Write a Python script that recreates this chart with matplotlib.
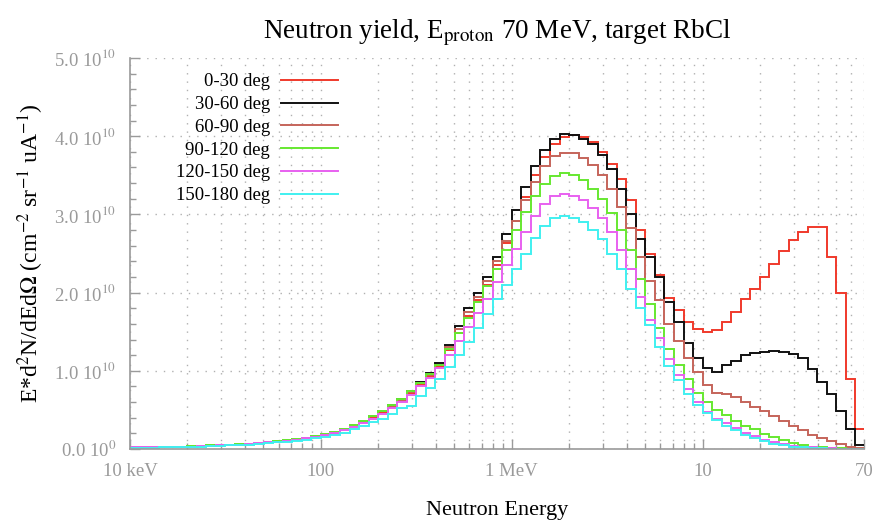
import numpy as np
import matplotlib
matplotlib.use('Agg')
import matplotlib.pyplot as plt
from matplotlib.ticker import FixedLocator, MultipleLocator, FuncFormatter

plt.rcParams['font.family'] = ['Liberation Serif', 'DejaVu Serif']
plt.rcParams['mathtext.fontset'] = 'stix'

# Energy bin edges (MeV), 20 bins per decade from 10 keV
edges = np.logspace(-2, 1.85, 78)

# Yield per bin, units of 1e10
y_0_30 = [0.02, 0.02, 0.02, 0.025, 0.03, 0.03, 0.035, 0.04, 0.045, 0.05,
          0.055, 0.06, 0.07, 0.08, 0.09, 0.10, 0.11, 0.125, 0.14, 0.16,
          0.18, 0.21, 0.25, 0.3, 0.35, 0.41, 0.47, 0.54, 0.62, 0.71,
          0.82, 0.93, 1.05, 1.26, 1.48, 1.7, 1.9, 2.1, 2.35, 2.63,
          2.92, 3.22, 3.5, 3.73, 3.9, 3.99, 4.02, 3.99, 3.92, 3.8,
          3.64, 3.45, 3.18, 2.8, 2.5, 2.22, 1.93, 1.78, 1.62, 1.53,
          1.5, 1.52, 1.62, 1.75, 1.92, 2.05, 2.2, 2.37, 2.53, 2.67,
          2.77, 2.84, 2.84, 2.45, 2.0, 0.9, 0.25]
y_30_60 = [0.02, 0.02, 0.02, 0.025, 0.03, 0.03, 0.035, 0.04, 0.045, 0.05,
           0.055, 0.06, 0.07, 0.08, 0.09, 0.10, 0.11, 0.125, 0.14, 0.16,
           0.19, 0.22, 0.26, 0.31, 0.36, 0.42, 0.49, 0.56, 0.64, 0.74,
           0.86, 0.97, 1.1, 1.33, 1.57, 1.8, 2.0, 2.2, 2.45, 2.75,
           3.05, 3.35, 3.62, 3.82, 3.96, 4.03, 4.02, 3.97, 3.9, 3.76,
           3.58, 3.32, 3.0, 2.68, 2.45, 2.2, 1.88, 1.62, 1.35, 1.17,
           1.04, 0.99, 1.07, 1.12, 1.2, 1.23, 1.24, 1.25, 1.24, 1.21,
           1.16, 1.02, 0.86, 0.7, 0.48, 0.25, 0.05]
y_60_90 = [0.02, 0.02, 0.02, 0.025, 0.03, 0.03, 0.035, 0.04, 0.045, 0.05,
           0.055, 0.06, 0.07, 0.08, 0.09, 0.10, 0.115, 0.13, 0.145, 0.165,
           0.19, 0.22, 0.26, 0.31, 0.36, 0.42, 0.48, 0.55, 0.63, 0.73,
           0.84, 0.95, 1.08, 1.3, 1.53, 1.75, 1.95, 2.15, 2.4, 2.66,
           2.92, 3.18, 3.42, 3.62, 3.75, 3.79, 3.78, 3.72, 3.63, 3.5,
           3.33, 3.1, 2.82, 2.45, 2.15, 1.9, 1.6, 1.38, 1.17, 0.98,
           0.82, 0.72, 0.7, 0.66, 0.6, 0.54, 0.48, 0.42, 0.36, 0.3,
           0.24, 0.18, 0.14, 0.1, 0.07, 0.03, 0.01]
y_90_120 = [0.02, 0.02, 0.02, 0.025, 0.03, 0.03, 0.035, 0.04, 0.045, 0.05,
            0.055, 0.06, 0.07, 0.08, 0.09, 0.10, 0.115, 0.13, 0.145, 0.165,
            0.19, 0.22, 0.26, 0.31, 0.36, 0.42, 0.49, 0.56, 0.64, 0.74,
            0.85, 0.96, 1.08, 1.28, 1.48, 1.68, 1.88, 2.08, 2.3, 2.55,
            2.8, 3.03, 3.23, 3.39, 3.49, 3.53, 3.5, 3.44, 3.33, 3.2,
            3.02, 2.8, 2.55, 2.17, 1.85, 1.55, 1.28, 1.08, 0.9, 0.72,
            0.6, 0.5, 0.43, 0.36, 0.3, 0.25, 0.19, 0.15, 0.11, 0.08,
            0.05, 0.03, 0.02, 0.01, 0.01, 0.005, 0.0]
y_120_150 = [0.02, 0.02, 0.02, 0.02, 0.025, 0.03, 0.03, 0.035, 0.04, 0.045,
             0.05, 0.055, 0.065, 0.075, 0.085, 0.095, 0.105, 0.12, 0.135, 0.15,
             0.175, 0.2, 0.24, 0.28, 0.33, 0.39, 0.45, 0.52, 0.6, 0.69,
             0.8, 0.91, 1.03, 1.2, 1.38, 1.56, 1.74, 1.92, 2.13, 2.35,
             2.56, 2.78, 2.98, 3.13, 3.23, 3.26, 3.24, 3.18, 3.08, 2.95,
             2.77, 2.55, 2.3, 1.94, 1.65, 1.42, 1.15, 0.95, 0.77, 0.6,
             0.47, 0.39, 0.33, 0.27, 0.21, 0.16, 0.12, 0.09, 0.06, 0.04,
             0.03, 0.02, 0.01, 0.01, 0.005, 0.0, 0.0]
y_150_180 = [0.015, 0.015, 0.015, 0.02, 0.02, 0.025, 0.03, 0.03, 0.035, 0.04,
             0.045, 0.05, 0.055, 0.065, 0.075, 0.085, 0.095, 0.105, 0.12, 0.135,
             0.155, 0.18, 0.21, 0.25, 0.29, 0.34, 0.39, 0.45, 0.52, 0.55,
             0.68, 0.78, 0.9, 1.05, 1.2, 1.37, 1.55, 1.73, 1.92, 2.1,
             2.3, 2.5, 2.7, 2.85, 2.95, 2.98, 2.96, 2.9, 2.8, 2.68,
             2.5, 2.3, 2.05, 1.8, 1.58, 1.3, 1.06, 0.88, 0.7, 0.56,
             0.46, 0.37, 0.3, 0.24, 0.18, 0.14, 0.1, 0.07, 0.05, 0.03,
             0.02, 0.01, 0.01, 0.0, 0.0, 0.0, 0.0]

labels = ['0-30 deg', '30-60 deg', '60-90 deg', '90-120 deg', '120-150 deg', '150-180 deg']
series = [y_0_30, y_30_60, y_60_90, y_90_120, y_120_150, y_150_180]
colors = ['#f0392b', '#111111', '#c5645a', '#66e830', '#e860f0', '#40f0f0']

x_ticks = [0.01, 0.1, 1, 10, 70]
x_ticklabels = ['10 keV', '100', '1 MeV', '10', '70']

fig = plt.figure(figsize=(8.78, 5.21), dpi=100)
ax = fig.add_axes([130 / 878, 1 - 449 / 521, 734 / 878, 391 / 521])

for vals, lab, col in zip(series, labels, colors):
    ax.stairs(np.array(vals) * 1e10, edges, color=col, lw=1.4, label=lab)

ax.set_xscale('log')
ax.set_xlim(0.01, 70)
ax.set_ylim(0, 5e10)

ax.xaxis.set_major_locator(FixedLocator(x_ticks))
ax.set_xticklabels(x_ticklabels)
minors = [m * 10.0 ** d for d in range(-2, 2) for m in range(2, 10) if m * 10.0 ** d < 70]
ax.xaxis.set_minor_locator(FixedLocator(minors))
ax.xaxis.set_minor_formatter(FuncFormatter(lambda v, p: ''))

ax.yaxis.set_major_locator(MultipleLocator(1e10))
ax.yaxis.set_minor_locator(MultipleLocator(2e9))


def ylab(v, pos):
    if v == 0:
        return r'0.0 10$^{0}$'
    return r'%.1f 10$^{10}$' % (v / 1e10)


ax.yaxis.set_major_formatter(FuncFormatter(ylab))

grey = '#9a9a9a'
ax.tick_params(which='both', direction='in', colors=grey, labelcolor=grey, labelsize=13.5)
ax.tick_params(which='major', length=7, width=1)
ax.tick_params(which='minor', length=4, width=1)
ax.tick_params(axis='x', pad=10)
ax.tick_params(axis='y', pad=10)

for s in ['top', 'right']:
    ax.spines[s].set_visible(False)
for s in ['left', 'bottom']:
    ax.spines[s].set_color(grey)
    ax.spines[s].set_linewidth(1.2)

ax.grid(True, which='major', axis='y', color='#b0b0b0', linestyle=(0, (1, 5)), lw=1)
ax.grid(True, which='both', axis='x', color='#b0b0b0', linestyle=(0, (1, 5)), lw=1)
ax.set_axisbelow(True)

ax.set_title(r'Neutron yield, E$_{\rm proton}$ 70 MeV, target RbCl', fontsize=19.5, pad=14)
ax.set_xlabel('Neutron Energy', fontsize=16, labelpad=15)
ax.set_ylabel(r'E*d$^2$N/dEd$\Omega$ (cm$^{-2}$ sr$^{-1}$ uA$^{-1}$)', fontsize=17, labelpad=6)

ax.legend(loc='upper left', bbox_to_anchor=(0.05, 0.985), frameon=False, markerfirst=False,
          fontsize=13.5, handlelength=3.0, labelspacing=0.3, borderpad=0, handletextpad=0.6)

fig.savefig('out.png', dpi=100)
